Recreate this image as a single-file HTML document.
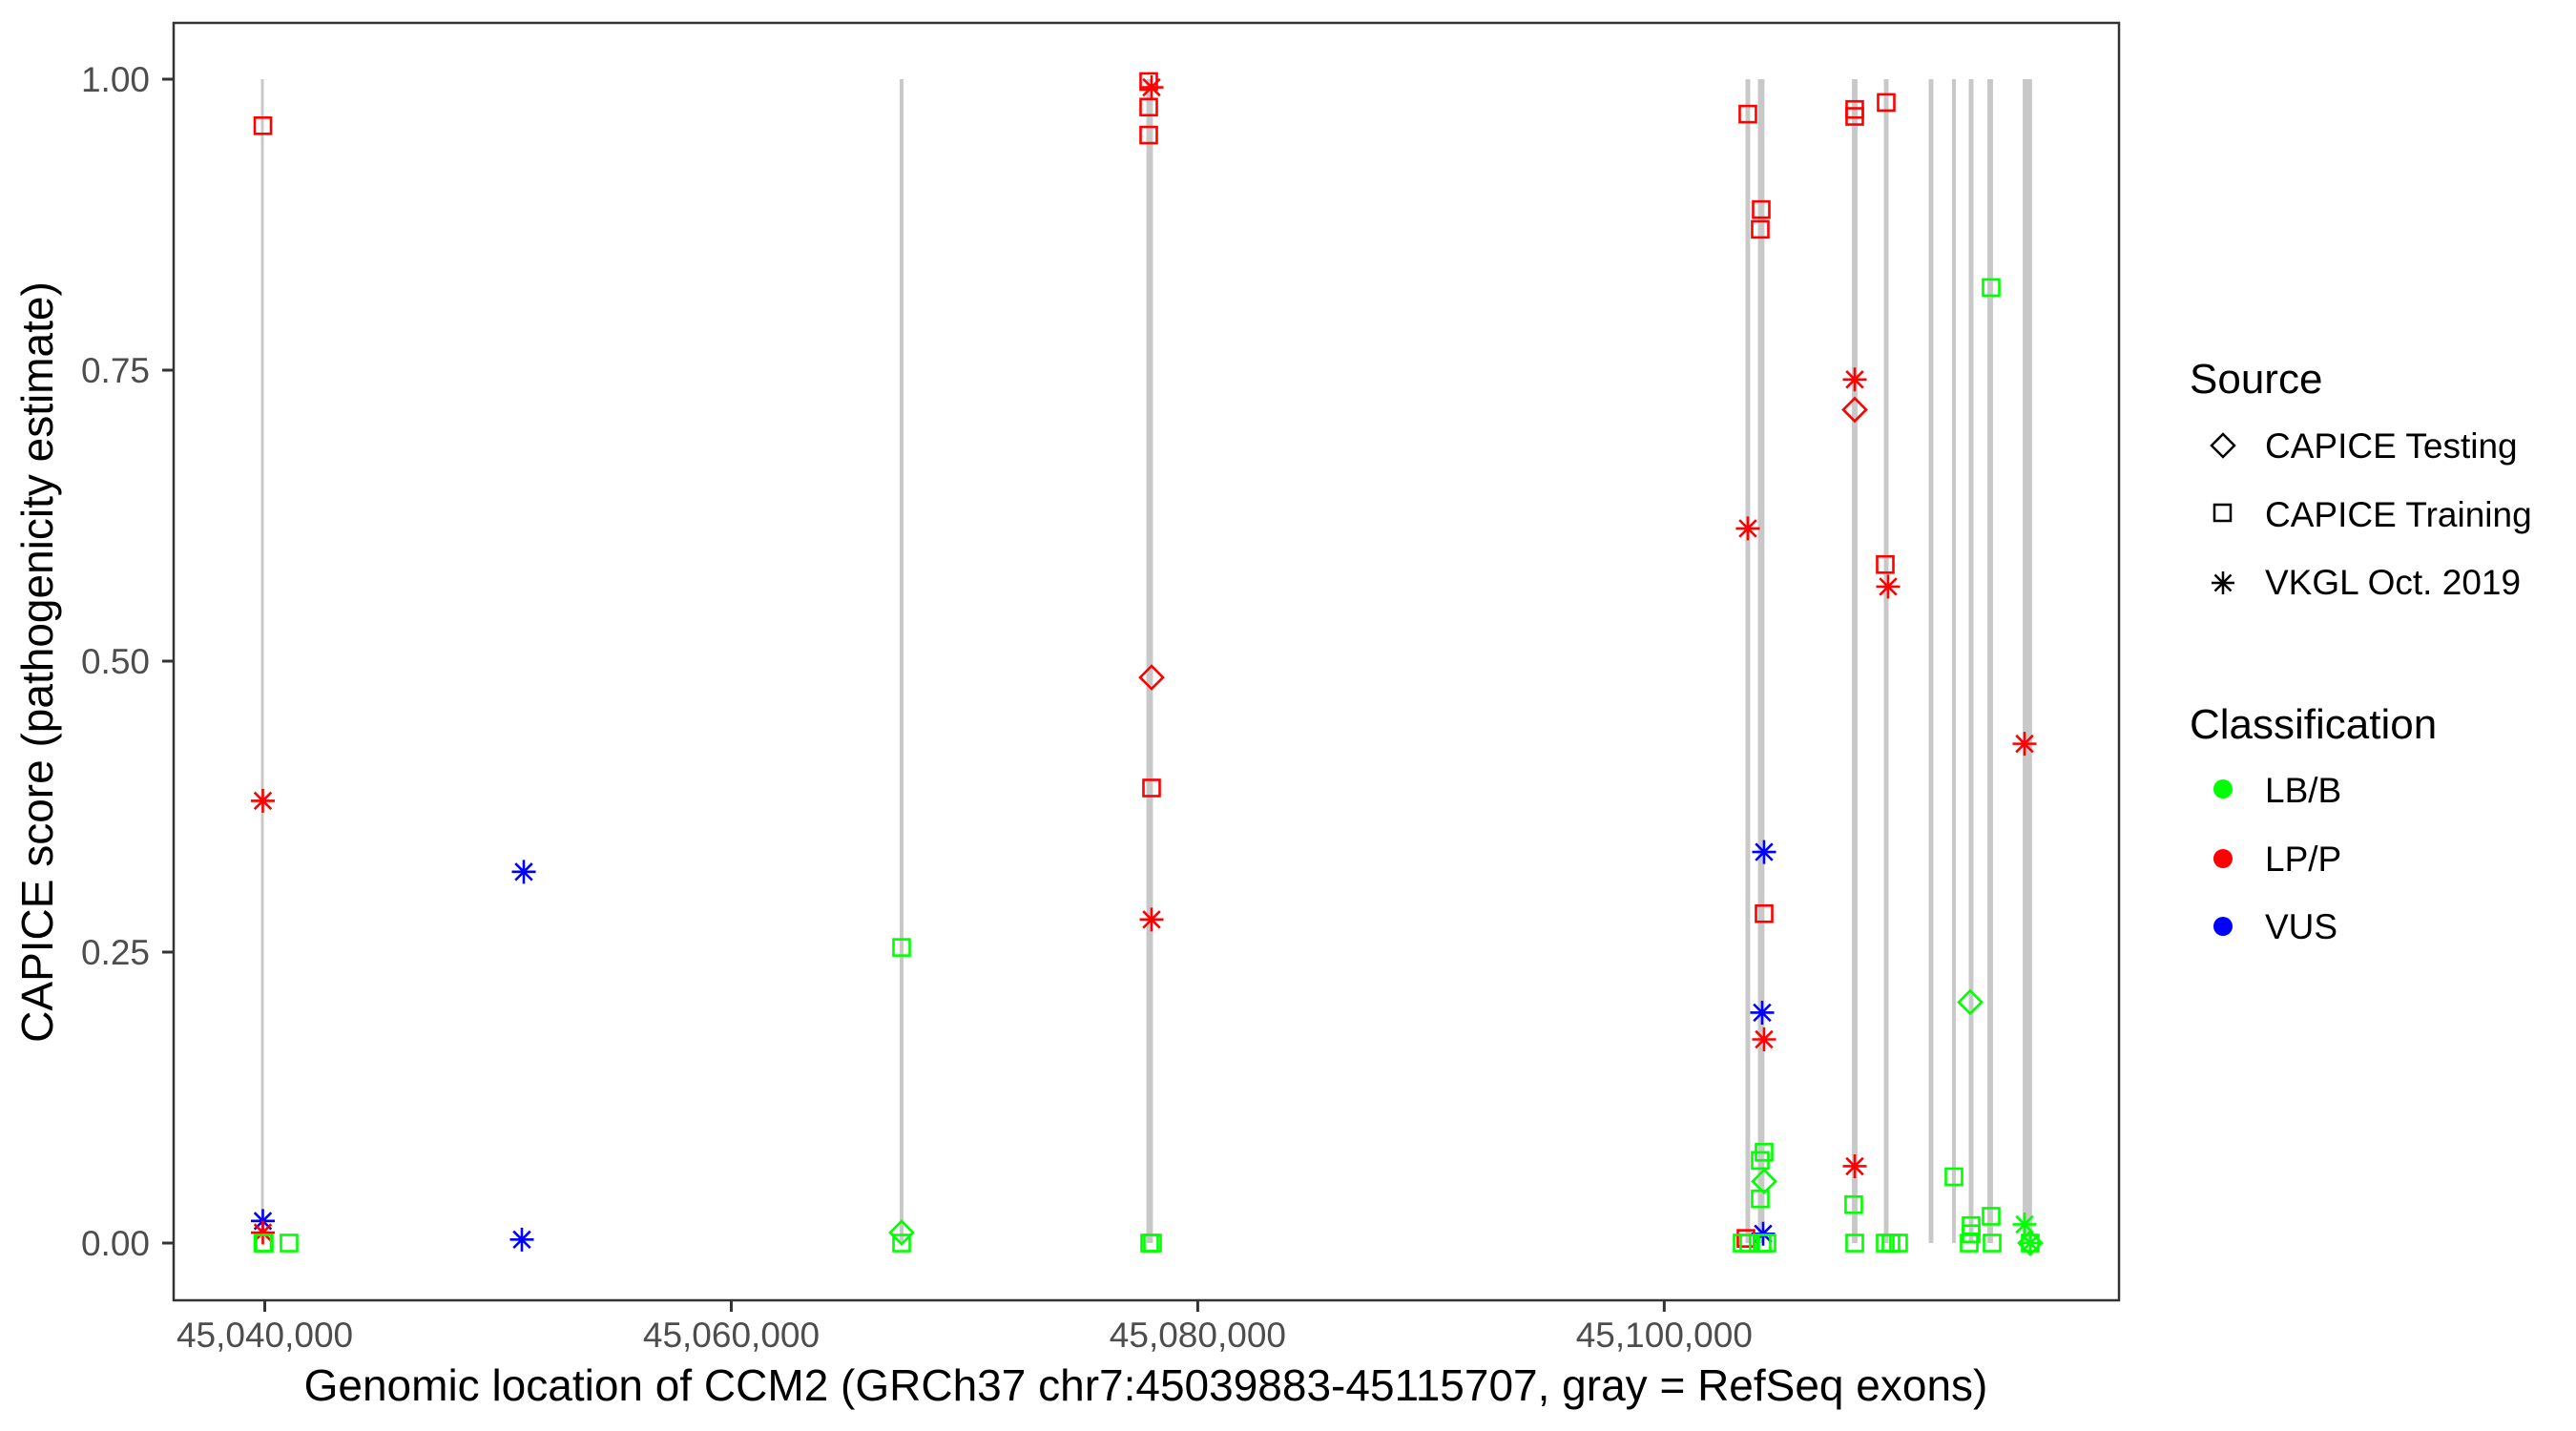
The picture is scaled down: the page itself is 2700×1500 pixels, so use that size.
<!DOCTYPE html>
<html><head><meta charset="utf-8"><style>
html,body{margin:0;padding:0;background:#fff;}
svg{display:block;font-family:"Liberation Sans",Arial,sans-serif;}
</style></head>
<body>
<svg id="chart" width="2700" height="1500" viewBox="0 0 2700 1500" xmlns="http://www.w3.org/2000/svg">
<rect x="0" y="0" width="2700" height="1500" fill="#fff"/>
<g id="exons"></g>
<g id="points"></g>
<rect x="182" y="24" width="2039" height="1339" fill="none" stroke="#333" stroke-width="2.5"/>
<g id="xaxis"></g>
<g id="yaxis"></g>
<text x="1201" y="1468" font-size="46" text-anchor="middle" fill="#000">Genomic location of CCM2 (GRCh37 chr7:45039883-45115707, gray = RefSeq exons)</text>
<text transform="translate(55,694) rotate(-90)" font-size="46" text-anchor="middle" fill="#000">CAPICE score (pathogenicity estimate)</text>
<g id="legend">
  <text x="2295" y="412" font-size="44" fill="#000">Source</text>
  <polygon points="2330,455 2342,467 2330,479 2318,467" fill="none" stroke="#000" stroke-width="2.5"/>
  <text x="2374" y="480" font-size="37" fill="#000">CAPICE Testing</text>
  <rect x="2321" y="529" width="17" height="17" fill="none" stroke="#000" stroke-width="2.5"/>
  <text x="2374" y="552" font-size="37" fill="#000">CAPICE Training</text>
  <path d="M2318,611 H2342 M2330,599 V623 M2321.5,602.5 L2338.5,619.5 M2321.5,619.5 L2338.5,602.5" stroke="#000" stroke-width="2.5"/>
  <text x="2374" y="623" font-size="37" fill="#000">VKGL Oct. 2019</text>
  <text x="2295" y="774" font-size="44" fill="#000">Classification</text>
  <circle cx="2330" cy="827" r="10" fill="#00FF00"/>
  <text x="2374" y="841" font-size="37" fill="#000">LB/B</text>
  <circle cx="2330" cy="900" r="10" fill="#FF0000"/>
  <text x="2374" y="913" font-size="37" fill="#000">LP/P</text>
  <circle cx="2330" cy="971" r="10" fill="#0000FF"/>
  <text x="2374" y="984" font-size="37" fill="#000">VUS</text>
</g>
</svg>
<script>
// ---- data ----
const exonStart = [45039836,45067223,45077798,45103485,45104018,45108047,45109417,45111339,45112341,45113058,45113856,45115370];
const exonEnd   = [45039956,45067383,45078078,45103685,45104298,45108287,45109617,45111539,45112501,45113258,45114096,45115770];
const xTicks = [45040000,45060000,45080000,45100000];
const xTickLabels = ["45,040,000","45,060,000","45,080,000","45,100,000"];
const yTicks = [0,0.25,0.5,0.75,1];
const yTickLabels = ["0.00","0.25","0.50","0.75","1.00"];
const pointPos = [
45039917,45039917,45039917,45039917,45039978,45039917,45041041,45051104,45051022,45067303,45067303,45067303,
45077897,45077897,45077897,45078020,45078020,45078020,45078020,45077938,45078060,
45103585,45103585,45108167,45108167,45108167,45108167,45108167,45108167,45108125,
45109517,45109476,45109599,45104158,45104117,45114017,45114017,45115448,45115448,
45104281,45104281,45104281,45113117,45104199,45104281,45104117,45104281,45104117,45112421,
45113158,45113158,45113076,45104240,45103504,
45103340,45103626,45104403,45104199,45109476,45109721,45110048,45114058,45115693,45115693,45115693];
const pointScore = [
0.960,0.380,0.019,0.009,0,0,0,0.319,0.003,0.254,0.009,0,
0.998,0.976,0.952,0.993,0.486,0.391,0.278,0,0,
0.970,0.614,0.974,0.968,0.742,0.716,0.066,0,0.033,
0.980,0.583,0.564,0.888,0.871,0.821,0.023,0.429,0.016,
0.336,0.283,0.175,0.207,0.198,0.078,0.071,0.053,0.038,0.057,
0.015,0.008,0,0.008,0.004,
0,0,0,0,0,0,0,0,0,0,0];
const pointSource = [
"S","A","A","A","S","S","S","A","A","S","D","S",
"S","S","S","A","D","S","A","S","S",
"S","A","S","S","A","D","A","S","S",
"S","S","A","S","S","S","S","A","A",
"A","S","A","D","A","S","S","D","S","S",
"S","S","S","A","S",
"S","S","S","S","S","S","S","S","S","D","A"];
const pointClass = [
"P","P","V","P","B","B","B","V","V","B","B","B",
"P","P","P","P","P","P","P","B","B",
"P","P","P","P","P","P","P","B","B",
"P","P","P","P","P","B","B","P","B",
"V","P","P","B","V","B","B","B","B","B",
"B","B","B","V","P",
"B","B","B","B","B","B","B","B","B","B","B"];
const classColor = {B:"#00FF00",P:"#FF0000",V:"#0000FF"};

// ---- scales ----
const X0=182, X1=2221, DMIN=45036092, DMAX=45119498;
const Y1PX=83, Y0PX=1303;
function xs(bp){return X0+(bp-DMIN)/(DMAX-DMIN)*(X1-X0);}
function ys(v){return Y0PX-(Y0PX-Y1PX)*v;}
const NS="http://www.w3.org/2000/svg";
function mk(tag,attrs,parent){const e=document.createElementNS(NS,tag);for(const k in attrs)e.setAttribute(k,attrs[k]);parent.appendChild(e);return e;}

const gEx=document.getElementById('exons');
for(let i=0;i<exonStart.length;i++){
  const a=xs(exonStart[i]), b=xs(exonEnd[i]);
  const r=mk('rect',{x:a,y:ys(1),width:Math.max(b-a,2),height:ys(0)-ys(1),fill:"#C8C8C8"},gEx);
  
  
}
const gX=document.getElementById('xaxis');
xTicks.forEach((t,i)=>{
  const x=xs(t);
  const l=mk('line',{x1:x,x2:x,y1:1363,y2:1375,stroke:"#333","stroke-width":3},gX);
  
  
  const tx=mk('text',{x:x,y:1412,"font-size":37,"text-anchor":"middle",fill:"#4D4D4D"},gX);
  tx.textContent=xTickLabels[i];
  
  
});
const gY=document.getElementById('yaxis');
yTicks.forEach((t,i)=>{
  const y=ys(t);
  const l=mk('line',{x1:170,x2:182,y1:y,y2:y,stroke:"#333","stroke-width":3},gY);
  
  
  const tx=mk('text',{x:157,y:y+13,"font-size":37,"text-anchor":"end",fill:"#4D4D4D"},gY);
  tx.textContent=yTickLabels[i];
  
  
});
const gP=document.getElementById('points');
for(let i=0;i<pointPos.length;i++){
  const cx=xs(pointPos[i]), cy=ys(pointScore[i]), col=classColor[pointClass[i]], s=pointSource[i];
  let e;
  if(s==="S"){
    e=mk('rect',{x:cx-8.5,y:cy-8.5,width:17,height:17,fill:"none",stroke:col,"stroke-width":2.6},gP);
  }else if(s==="D"){
    e=mk('polygon',{points:`${cx},${cy-12} ${cx+12},${cy} ${cx},${cy+12} ${cx-12},${cy}`,fill:"none",stroke:col,"stroke-width":2.6},gP);
  }else{
    const r=12.5,d=8.8;
    e=mk('path',{d:`M${cx-r},${cy} H${cx+r} M${cx},${cy-r} V${cy+r} M${cx-d},${cy-d} L${cx+d},${cy+d} M${cx-d},${cy+d} L${cx+d},${cy-d}`,stroke:col,"stroke-width":2.6},gP);
  }
  
  
}
</script>
</body></html>
